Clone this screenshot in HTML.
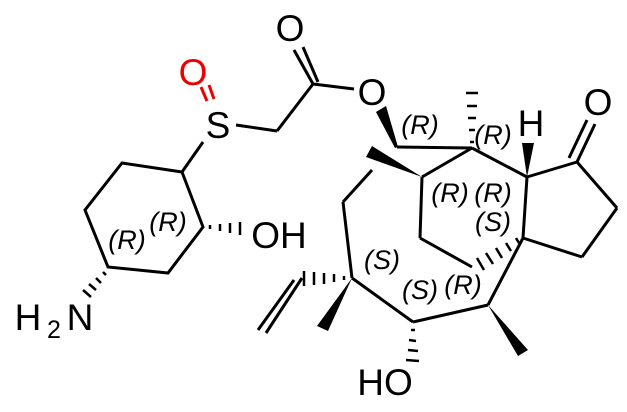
<!DOCTYPE html>
<html><head><style>html,body{margin:0;padding:0;background:#fff}</style></head><body>
<svg width="627" height="407" viewBox="0 0 627 407" xmlns="http://www.w3.org/2000/svg">
<g stroke="#000" stroke-width="3" fill="none" stroke-linecap="butt">
<polyline points="182,172 122,163 85,210 108,267 168,273 203,227 182,172"/>
<line x1="182" y1="172" x2="203" y2="142"/>
<line x1="236" y1="125" x2="277" y2="131"/>
<line x1="277" y1="131" x2="313" y2="84"/>
<line x1="313" y1="84" x2="294" y2="50"/>
<line x1="318" y1="82" x2="303" y2="47"/>
<line x1="313" y1="84" x2="354" y2="89"/>
<line x1="201" y1="87" x2="207" y2="101" stroke="#e00"/>
<line x1="209" y1="85" x2="214" y2="99" stroke="#e00"/>
<line x1="397" y1="147" x2="472" y2="148"/>
<line x1="472" y1="148" x2="527" y2="177"/>
<line x1="472" y1="148" x2="422" y2="177"/>
<line x1="527" y1="177" x2="577" y2="162"/>
<line x1="577" y1="162" x2="595" y2="124"/>
<line x1="569" y1="158" x2="587" y2="120"/>
<line x1="577" y1="162" x2="617" y2="208"/>
<line x1="617" y1="208" x2="582" y2="257"/>
<line x1="582" y1="257" x2="523" y2="238"/>
<line x1="527" y1="177" x2="523" y2="238"/>
<line x1="523" y1="238" x2="488" y2="305"/>
<line x1="488" y1="305" x2="413" y2="322"/>
<line x1="413" y1="322" x2="352" y2="278"/>
<line x1="352" y1="278" x2="343" y2="202"/>
<line x1="343" y1="202" x2="372" y2="170"/>
<line x1="422" y1="177" x2="420" y2="238"/>
<line x1="420" y1="238" x2="472" y2="267"/>
<line x1="302" y1="278" x2="266" y2="333"/>
<line x1="294" y1="280" x2="258" y2="330"/>
</g>
<g fill="#000">
<polygon points="376,112 386,106 398,147 395,148"/>
<polygon points="422,177 366,157 372,146"/>
<polygon points="527,177 522,143 534,143"/>
<polygon points="488,305 518,356 528,350"/>
<polygon points="352,278 317,326 328,331"/>
</g>
<g stroke="#000" stroke-width="2.5">
<line x1="470" y1="142" x2="474" y2="142"/><line x1="469" y1="130" x2="475" y2="130"/><line x1="468" y1="118" x2="476" y2="118"/><line x1="467" y1="106" x2="477" y2="106"/><line x1="466" y1="93" x2="478" y2="93"/>
<line x1="210" y1="225" x2="210" y2="229"/><line x1="220" y1="224" x2="220" y2="231"/><line x1="230" y1="223" x2="230" y2="233"/><line x1="240" y1="222" x2="240" y2="235"/>
<line x1="103" y1="272" x2="106" y2="275"/><line x1="96" y1="278" x2="101" y2="283"/><line x1="89" y1="284" x2="96" y2="290"/><line x1="83" y1="290" x2="91" y2="297"/>
<line x1="516" y1="238" x2="519" y2="243"/><line x1="506" y1="243" x2="511" y2="251"/><line x1="496" y1="248" x2="502" y2="258"/><line x1="486" y1="253" x2="493" y2="264"/><line x1="477" y1="258" x2="484" y2="270"/>
<line x1="411" y1="330" x2="415" y2="330"/><line x1="409" y1="340" x2="416" y2="341"/><line x1="408" y1="350" x2="418" y2="351"/><line x1="406" y1="360" x2="419" y2="361"/>
<line x1="344" y1="276" x2="344" y2="280"/><line x1="334" y1="274" x2="334" y2="282"/><line x1="324" y1="273" x2="324" y2="284"/><line x1="314" y1="272" x2="314" y2="285"/><line x1="304" y1="271" x2="304" y2="286"/>
</g>
<g font-family="Liberation Sans, sans-serif" font-size="37" text-anchor="middle" fill="#000">
<text x="193" y="85" fill="#e00">O</text>
<text x="218" y="138">S</text>
<text x="290" y="41">O</text>
<text x="372" y="105">O</text>
<text x="598" y="115">O</text>
<text x="531" y="136">H</text>
<text x="279" y="248">OH</text>
<text x="385" y="395">HO</text>
<text x="28" y="330">H</text>
<text x="54" y="338" font-size="25">2</text>
<text x="80" y="330">N</text>
</g>
<g font-family="Liberation Sans, sans-serif" font-size="27" font-style="italic" text-anchor="middle" fill="#000">
<text x="127" y="249">(R)</text>
<text x="168" y="231">(R)</text>
<text x="420" y="134">(R)</text>
<text x="493" y="144">(R)</text>
<text x="450" y="202">(R)</text>
<text x="493" y="202">(R)</text>
<text x="493" y="231">(S)</text>
<text x="382" y="269">(S)</text>
<text x="420" y="299">(S)</text>
<text x="463" y="294">(R)</text>
</g>
</svg>
</body></html>
